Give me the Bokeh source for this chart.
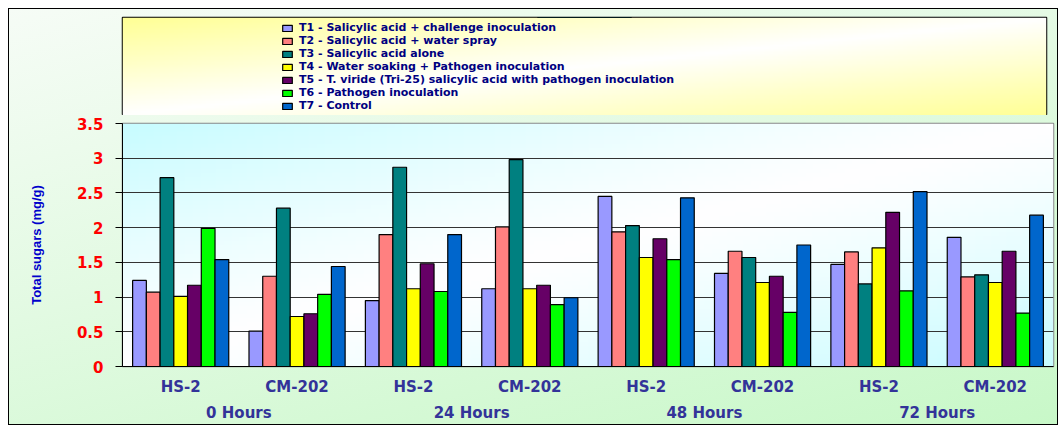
import numpy as np
from bokeh.plotting import figure
from bokeh.layouts import column
from bokeh.models import (FactorRange, ColumnDataSource, Legend, LegendItem,
                          FixedTicker, Range1d)
from bokeh.transform import dodge
from bokeh.embed import file_html
from bokeh.resources import INLINE

# ---------------- data ----------------
hours = ["0 Hours", "24 Hours", "48 Hours", "72 Hours"]
cultivars = ["HS-2", "CM-202"]
treatments = [
    "T1 - Salicylic acid + challenge inoculation",
    "T2 - Salicylic acid + water spray",
    "T3 - Salicylic acid alone",
    "T4 - Water soaking + Pathogen inoculation",
    "T5 - T. viride (Tri-25) salicylic acid with pathogen inoculation",
    "T6 - Pathogen inoculation",
    "T7 - Control",
]
colors = ["#9999FF", "#FF8080", "#008080", "#FFFF00", "#660066", "#00FF00", "#0066CC"]

t1 = [1.24, 0.51, 0.95, 1.12, 2.45, 1.34, 1.47, 1.86]
t2 = [1.07, 1.30, 1.90, 2.01, 1.94, 1.66, 1.65, 1.29]
t3 = [2.72, 2.28, 2.87, 2.98, 2.03, 1.57, 1.19, 1.32]
t4 = [1.01, 0.72, 1.12, 1.12, 1.57, 1.21, 1.71, 1.21]
t5 = [1.17, 0.76, 1.48, 1.17, 1.84, 1.30, 2.22, 1.66]
t6 = [1.99, 1.04, 1.08, 0.89, 1.54, 0.78, 1.09, 0.77]
t7 = [1.54, 1.44, 1.90, 0.99, 2.43, 1.75, 2.52, 2.18]
series = [t1, t2, t3, t4, t5, t6, t7]

y_ticks = [0, 0.5, 1, 1.5, 2, 2.5, 3, 3.5]
y_tick_labels = ["0", "0.5", "1", "1.5", "2", "2.5", "3", "3.5"]
y_label = "Total sugars (mg/g)"

BOLD_FONT = "DejaVu Sans"


def gradient(h, w, c_far, power=1.2):
    """Decorative diagonal gradient: colour c_far at two corners, white in the middle."""
    yy, xx = np.mgrid[0:h, 0:w]
    u = xx / (w - 1)
    v = yy / (h - 1)
    s = (u + (1 - v)) / 2
    t = np.clip(np.abs(s - 0.5) * 2, 0, 1) ** power
    img = np.empty((h, w), dtype=np.uint32)
    vw = img.view(dtype=np.uint8).reshape((h, w, 4))
    for k in range(3):
        vw[:, :, k] = (255 - (255 - c_far[k]) * t).astype(np.uint8)
    vw[:, :, 3] = 255
    return img


# ---------------- legend panel (top) ----------------
top = figure(x_range=Range1d(0, 1), y_range=Range1d(0, 1),
             frame_width=924, frame_height=98,
             min_border_left=109, min_border_right=15, min_border_top=8, min_border_bottom=0,
             x_axis_location=None, y_axis_location=None,
             output_backend="svg", toolbar_location=None,
             border_fill_color=None, background_fill_color=None)
top.grid.visible = False
top.outline_line_color = "#000000"
top.outline_line_width = 1.5
top.image_rgba(image=[gradient(40, 200, (255, 255, 150), 1.0)], x=0, y=0, dw=1, dh=1, level="image")

# legend-only swatch renderers (placed outside the visible range of this panel)
swatch = ColumnDataSource(dict(x=[0.5], bottom=[5], top=[6]))
leg_renderers = []
for col in colors:
    leg_renderers.append(top.vbar(x="x", bottom="bottom", top="top", width=0.1, source=swatch,
                                  fill_color=col, line_color="#000000", line_width=1.2))
legend = Legend(items=[LegendItem(label=n, renderers=[r]) for n, r in zip(treatments, leg_renderers)],
                location=(159, 3), orientation="vertical",
                background_fill_alpha=0, border_line_color=None,
                label_text_font=BOLD_FONT, label_text_font_style="bold",
                label_text_font_size="11px", label_text_color="#000080",
                glyph_width=12, glyph_height=8, label_standoff=6,
                spacing=0, padding=0, margin=0, label_height=12)
top.add_layout(legend, "center")

# ---------------- main chart ----------------
factors = [(h, c) for h in hours for c in cultivars]
src = ColumnDataSource(dict(x=factors, **{f"t{i+1}": s for i, s in enumerate(series)}))

x_range = FactorRange(*factors, group_padding=0, factor_padding=0, range_padding=0)
p = figure(x_range=x_range, y_range=Range1d(y_ticks[0], y_ticks[-1]),
           frame_width=931, frame_height=243,
           min_border_left=113, min_border_top=8, min_border_right=4, min_border_bottom=52,
           output_backend="svg", toolbar_location=None,
           border_fill_color=None, background_fill_color=None)

p.image_rgba(image=[gradient(60, 120, (200, 252, 255))], x=0, y=y_ticks[0],
             dw=len(factors), dh=y_ticks[-1] - y_ticks[0], level="image")

width = 0.118
for i, col in enumerate(colors):
    p.vbar(x=dodge("x", (i - 3) * width, range=x_range), top=f"t{i+1}", width=width,
           source=src, fill_color=col, line_color="#000000", line_width=1.2)

p.xgrid.visible = False
p.ygrid.ticker = FixedTicker(ticks=y_ticks)
p.ygrid.grid_line_color = "#333333"
p.ygrid.grid_line_width = 1
p.outline_line_color = "#888888"
p.outline_line_width = 1.5

ya = p.yaxis[0]
ya.ticker = FixedTicker(ticks=y_ticks)
ya.major_label_overrides = {k: v for k, v in zip(y_ticks, y_tick_labels)}
ya.major_label_text_color = "#FF0000"
ya.major_label_text_font = BOLD_FONT
ya.major_label_text_font_style = "bold"
ya.major_label_text_font_size = "15px"
ya.major_label_standoff = 12
ya.major_tick_out = 7
ya.major_tick_in = 0
ya.minor_tick_line_color = None
ya.axis_line_color = "#000000"
ya.major_tick_line_color = "#000000"
ya.axis_label = y_label
ya.axis_label_text_font = "Liberation Sans"
ya.axis_label_text_font_style = "bold"
ya.axis_label_text_font_size = "13px"
ya.axis_label_text_color = "#0000CC"
ya.axis_label_standoff = 30

xa = p.xaxis[0]
xa.major_tick_line_color = None
xa.minor_tick_line_color = None
xa.axis_line_color = "#000000"
xa.separator_line_color = None
xa.major_label_text_color = "#333399"
xa.major_label_text_font = BOLD_FONT
xa.major_label_text_font_style = "bold"
xa.major_label_text_font_size = "15px"
xa.major_label_standoff = 5
xa.group_text_color = "#333399"
xa.group_text_font = BOLD_FONT
xa.group_text_font_style = "bold"
xa.group_text_font_size = "15px"

layout = column(top, p, spacing=0,
                styles={"background": "linear-gradient(165deg, #f6fcf6 0%, #e2fae2 45%, #c8f8c8 100%)",
                        "border": "1px solid #000000",
                        "margin-left": "8px", "margin-top": "8px"})

open("out.html", "w").write(file_html(layout, INLINE))
